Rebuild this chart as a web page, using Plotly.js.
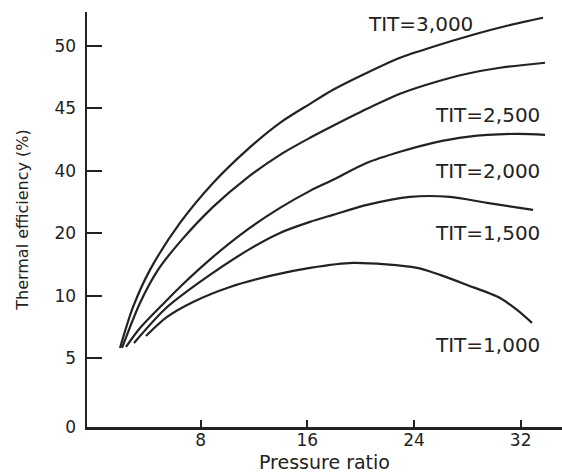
<!DOCTYPE html>
<html>
<head>
<meta charset="utf-8">
<script src="https://cdn.plot.ly/plotly-3.0.1.min.js"></script>
<style>html,body{margin:0;padding:0;background:#fff;}#chart{width:562px;height:473px;}</style>
</head>
<body>
<div id="chart"></div>
<script>
// Pressure ratio (x) and axis position (y, in tick-step units of the printed scale)
const tit3000X = [1.95, 2.93, 4.20, 6.45, 8.93, 11.48, 13.95, 16.20, 17.93, 20.48, 22.95, 25.43, 28.43, 30.98, 33.68];
const tit3000Y = [1.265, 1.921, 2.514, 3.266, 3.906, 4.435, 4.867, 5.171, 5.395, 5.668, 5.908, 6.084, 6.276, 6.420, 6.548];

const tit2500X = [2.10, 3.45, 4.80, 6.45, 8.93, 11.48, 13.95, 16.20, 17.93, 20.48, 22.95, 25.43, 27.98, 30.45, 33.83];
const tit2500Y = [1.265, 1.985, 2.514, 2.962, 3.522, 3.987, 4.355, 4.627, 4.819, 5.091, 5.331, 5.508, 5.652, 5.748, 5.828];

const tit2000X = [2.40, 3.45, 5.48, 6.45, 8.93, 11.48, 13.95, 16.20, 17.93, 20.48, 22.95, 25.43, 27.98, 31.73, 33.83];
const tit2000Y = [1.281, 1.585, 2.033, 2.241, 2.722, 3.154, 3.506, 3.778, 3.955, 4.227, 4.403, 4.547, 4.643, 4.691, 4.675];

const tit1500X = [3.00, 5.33, 7.95, 11.70, 13.95, 16.20, 17.93, 20.48, 23.70, 26.70, 29.48, 32.93];
const tit1500Y = [1.345, 1.889, 2.321, 2.850, 3.106, 3.282, 3.394, 3.554, 3.682, 3.682, 3.586, 3.474];

const tit1000X = [3.90, 5.48, 7.43, 10.20, 13.20, 16.20, 19.43, 24.23, 25.95, 27.98, 30.45, 31.73, 32.85];
const tit1000Y = [1.457, 1.761, 2.001, 2.241, 2.418, 2.546, 2.626, 2.546, 2.434, 2.273, 2.065, 1.873, 1.665];

const yTickVals = [0, 1.1, 2.1, 3.1, 4.1, 5.1, 6.1];
const yTickText = ['0', '5', '10', '20', '40', '45', '50'];
const xTickVals = [8, 16, 24, 32];

const curveLabels = ['TIT=3,000', 'TIT=2,500', 'TIT=2,000', 'TIT=1,500', 'TIT=1,000'];
const labelX = [24.5, 33.6, 33.6, 33.6, 33.6];
const labelY = [6.45, 5.0, 4.09, 3.10, 1.31];

const ink = '#222222';
const series = [[tit3000X, tit3000Y], [tit2500X, tit2500Y], [tit2000X, tit2000Y], [tit1500X, tit1500Y], [tit1000X, tit1000Y]];
const traces = series.map((s, i) => ({
  x: s[0], y: s[1], type: 'scatter', mode: 'lines', name: curveLabels[i],
  line: {color: ink, width: 2.2, shape: 'spline', smoothing: 0.8},
  hoverinfo: 'skip'
}));

const font = 'DejaVu Sans, Liberation Sans, Arial, sans-serif';
const annotations = curveLabels.map((t, i) => ({
  text: t, x: labelX[i], y: labelY[i], xref: 'x', yref: 'y',
  xanchor: i === 0 ? 'center' : 'right', yanchor: 'middle', showarrow: false,
  font: {family: font, size: 20, color: ink}
}));

const layout = {
  width: 562, height: 473,
  margin: {l: 87, r: 0, t: 12, b: 46},
  paper_bgcolor: '#fff', plot_bgcolor: '#fff',
  showlegend: false,
  font: {family: font, color: ink},
  xaxis: {
    range: [-0.525, 35.1], showgrid: false, zeroline: false,
    showline: true, linecolor: ink, linewidth: 2.5,
    ticks: 'inside', ticklen: 7, tickwidth: 2, tickcolor: ink,
    tickvals: xTickVals, tickfont: {family: font, size: 17, color: ink},
    ticklabelstandoff: -4,
    title: {text: 'Pressure ratio', font: {family: font, size: 19, color: ink}, standoff: 10}
  },
  yaxis: {
    range: [0, 6.64], showgrid: false, zeroline: false,
    showline: true, linecolor: ink, linewidth: 2.5,
    ticks: 'inside', ticklen: 15, tickwidth: 2, tickcolor: ink,
    tickvals: yTickVals, ticktext: yTickText,
    tickfont: {family: font, size: 17, color: ink},
    ticklabelstandoff: 5,
    title: {text: 'Thermal efficiency (%)', font: {family: font, size: 16, color: ink}, standoff: 22}
  },
  annotations: annotations
};

Plotly.newPlot('chart', traces, layout, {staticPlot: true, displayModeBar: false});
</script>
</body>
</html>
